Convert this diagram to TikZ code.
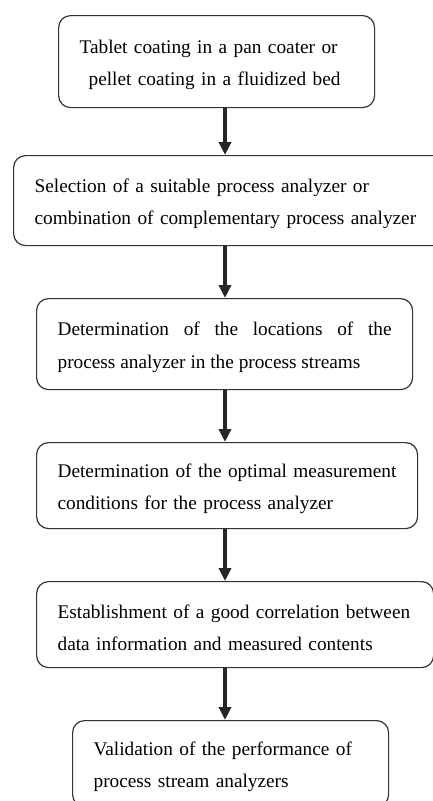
\documentclass[tikz,border=0pt]{standalone}
\usepackage{fontspec}
\setmainfont{Liberation Serif}
\usetikzlibrary{arrows.meta}
\setlength{\parindent}{0pt}
\hyphenpenalty=10000
\exhyphenpenalty=10000

\begin{document}
\begin{tikzpicture}[
            x=1pt,
            y=-1pt,
            font=\fontsize{19.3}{32.5}\selectfont,
            stepbox/.style={
                rectangle,
                rounded corners=12pt,
                draw=black!80,
                line width=1.2pt,
                anchor=north west,
                inner xsep=21pt,
                inner ysep=0pt,
                align=left,
                execute at begin node={\rule{0pt}{20pt}}
            },
            arrow/.style={
                line width=3.5pt,
                draw=black!85,
                -{Triangle[width=12pt,length=13pt]}
            }
        ]
            \useasboundingbox (0,0) rectangle (433,801);
            % Define nodes
            \node[stepbox, text width=274pt, minimum height=92pt] (coating) at (58,15)
                {Tablet coating in a pan coater or\\\hspace*{9pt}pellet coating in a fluidized bed};
            \node[stepbox, text width=395pt, minimum height=90pt] (selection) at (13,155)
                {Selection of a suitable process analyzer or\\combination of complementary process analyzer};
            \node[stepbox, text width=334pt, minimum height=91pt, align=justify] (locations) at (36,298)
                {Determination of the locations of the\linebreak process analyzer in the process streams};
            \node[stepbox, text width=339pt, minimum height=86pt] (conditions) at (36,442)
                {Determination of the optimal measurement\\conditions for the process analyzer};
            \node[stepbox, text width=355pt, minimum height=86pt] (correlation) at (36,581)
                {Establishment of a good correlation between\\data information and measured contents};
            \node[stepbox, text width=274pt, minimum height=86pt] (validation) at (72,720)
                {Validation of the performance of\\process stream analyzers};
            \coordinate (spine) at (225,0);

            % Draw edges
            \draw[arrow] (coating.south -| spine) -- (selection.north -| spine);
            \draw[arrow] (selection.south -| spine) -- (locations.north -| spine);
            \draw[arrow] (locations.south -| spine) -- (conditions.north -| spine);
            \draw[arrow] (conditions.south -| spine) -- (correlation.north -| spine);
            \draw[arrow] (correlation.south -| spine) -- (validation.north -| spine);
        \end{tikzpicture}
\end{document}
